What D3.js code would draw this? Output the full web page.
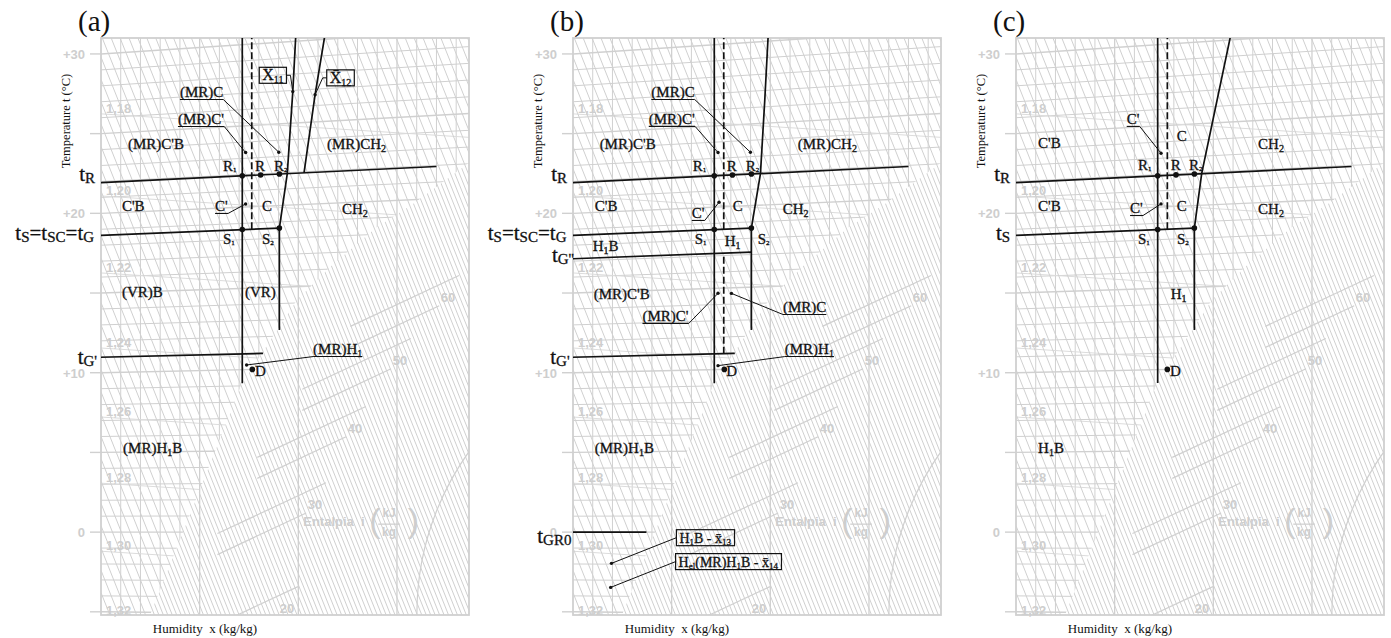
<!DOCTYPE html>
<html>
<head>
<meta charset="utf-8">
<title>h-x diagram process zones</title>
<script src="https://cdn.jsdelivr.net/npm/d3@7/dist/d3.min.js"></script>
<style>
  html, body { margin: 0; background: #fff; }
  svg { display: block; }
  text { white-space: pre; }
</style>
</head>
<body>
<svg id="chart" width="1391" height="638"></svg>
<script>
// ---------- chart values: humidity x in g/kg, temperature t in °C ----------
const panelTitles = ["(a)", "(b)", "(c)"];
const tempLabelValues = [0, 10, 20, 30];
const tempLabelText = ["0", "+10", "+20", "+30"];
const tempTickValues = [-5, 0, 5, 10, 15, 20, 25, 30];
const densityText = ["1,18", "1,20", "1,22", "1,24", "1,26", "1,28", "1,30", "1,32"];
const densityAt = [26.62, 21.47, 16.64, 11.93, 7.6, 3.45, -0.82, -4.9];
const enthalpyText = ["20", "30", "40", "50", "60"];
const enthalpyAt = [[9.43, -4.77], [10.85, 1.75], [12.87, 6.53], [15.15, 10.8], [17.59, 14.75]];
// saturation curve (x, t)
const saturation = [[2.48, -5.18], [4.16, 0], [7.15, 9.18], [9.93, 14.18], [11.61, 16.13],
                    [13.94, 18.4], [15.76, 19.7], [18.65, 22.06]];

// characteristic temperatures
const tR = 21.93, tS = 18.62, tG1 = 10.97, tG2 = 17.15, tGR0 = 0;

// ---- panel (a) ----
const aIsotherms = [[tR, 0, 17.0], [tS, 0, 9.04], [tG1, 0, 8.21]];
const aSolid = [[7.16, 9.17, 32], [9.04, 12.38, tS]];
const aDashed = [[7.64, tS, 32]];
const aCurves = [
  [[9.04, tS], [9.44, tR], [9.72, 26.93], [9.9, 31.0]],
  [[10.29, tR], [10.85, 26.66], [11.45, 31.0]]
];
const aPoints = [[7.16, tR], [8.09, tR], [9.04, tR], [7.16, tS], [9.04, tS], [7.67, 10.0]];
const aLabels = [
  ["(MR)C'B", 1.37, 24.04], ["R_{1}", 6.18, 22.66, "pt"], ["R", 7.81, 22.66], ["R_{2}", 8.77, 22.66, "pt"],
  ["(MR)CH_{2}", 11.45, 24.04], ["C'B", 1.06, 20.15], ["C", 8.16, 20.15], ["CH_{2}", 12.21, 19.96],
  ["S_{1}", 6.18, 18.08, "pt"], ["S_{2}", 8.16, 18.08, "pt"], ["(VR)B", 1.06, 14.75], ["(VR)", 7.3, 14.75],
  ["(MR)H_{1}B", 1.12, 4.96], ["D", 7.81, 9.79]
];
const aNotes = [
  ["(MR)C", 4.0, 27.3, "end", 9.01, 23.27],
  ["(MR)C'", 3.9, 25.6, "end", 7.33, 23.35],
  ["C'", 5.78, 20.15, "end", 7.33, 20.19],
  ["(MR)H_{1}", 10.75, 11.17, "start", 7.38, 10.28]
];
const aBoxes = [
  ["X\u0304_{11}", 8.02, 28.66, "end", 9.72, 26.93],
  ["X\u0304_{12}", 11.44, 28.5, "start", 10.85, 26.66]
];
const aSide = [["t_{R}", -0.3, 22.03], ["t_{S}=t_{SC}=t_{G}", -0.35, 18.33], ["t_{G'}", -0.2, 10.55]];

// ---- panel (b) ----
const bIsotherms = [[tR, 0, 17.0], [tS, 0, 9.04], [tG2, 0, 9.04], [tG1, 0, 8.2], [tGR0, 0, 3.72]];
const bSolid = [[7.16, 9.17, 32], [9.04, 12.38, tS]];
const bDashed = [[7.64, tS, 32], [7.64, tG1, tG2]];
const bCurves = [[[9.04, tS], [9.5, tR], [9.72, 26.43], [9.92, 31.0]]];
const bPoints = [[7.16, tR], [8.08, tR], [9.04, tR], [7.16, tS], [9.04, tS], [7.67, 10.0]];
const bLabels = [
  ["(MR)C'B", 1.35, 24.04], ["R_{1}", 6.07, 22.66, "pt"], ["R", 7.79, 22.66], ["R_{2}", 8.75, 22.66, "pt"],
  ["(MR)CH_{2}", 11.39, 24.04], ["C'B", 1.1, 20.15], ["C", 8.09, 20.15], ["CH_{2}", 10.63, 19.96],
  ["H_{1}B", 1.0, 17.64], ["S_{1}", 6.17, 18.08, "pt"], ["H_{1}", 7.69, 17.95], ["S_{2}", 9.36, 18.08, "pt"],
  ["(MR)C'B", 1.05, 14.63], ["D", 7.77, 9.79], ["(MR)H_{1}B", 1.1, 4.96]
];
const bNotes = [
  ["(MR)C", 3.97, 27.3, "end", 8.99, 23.27],
  ["(MR)C'", 3.84, 25.61, "end", 7.35, 23.35],
  ["C'", 6.02, 19.71, "end", 7.4, 20.29],
  ["(MR)C", 10.64, 13.81, "start", 8.03, 14.66],
  ["(MR)C'", 3.52, 13.25, "end", 7.35, 14.69],
  ["(MR)H_{1}", 10.73, 11.17, "start", 7.35, 10.24]
];
const bBoxes = [
  ["H_{1}B - x\u0304_{13}", 5.24, -0.35, "start", 1.95, -1.95],
  ["H_{el}(MR)H_{1}B - x\u0304_{14}", 5.2, -1.85, "start", 1.91, -3.45]
];
const bSide = [["t_{R}", -0.3, 22.03], ["t_{S}=t_{SC}=t_{G}", -0.33, 18.33], ["t_{G''}", 0.05, 16.95],
               ["t_{G'}", -0.17, 10.55], ["t_{GR0}", -0.08, -0.69]];

// ---- panel (c) ----
const cIsotherms = [[tR, 0, 17.0], [tS, 0, 9.04]];
const cSolid = [[7.18, 9.17, 32], [9.04, 12.38, tS]];
const cDashed = [[7.67, tS, 32]];
const cCurves = [[[9.04, tS], [9.41, tR], [10.85, 30.11], [11.0, 31.0]]];
const cPoints = [[7.18, tR], [8.11, tR], [9.04, tR], [7.18, tS], [9.04, tS], [7.67, 10.0]];
const cLabels = [
  ["C'B", 1.12, 24.1], ["C", 8.15, 24.55], ["CH_{2}", 12.27, 24.04],
  ["R_{1}", 6.18, 22.72, "pt"], ["R", 7.84, 22.72], ["R_{2}", 8.77, 22.72, "pt"],
  ["C'B", 1.12, 20.15], ["C", 8.15, 20.15], ["CH_{2}", 12.27, 19.96],
  ["S_{1}", 6.18, 18.08, "pt"], ["S_{2}", 8.16, 18.08, "pt"], ["H_{1}", 7.84, 14.63],
  ["D", 7.8, 9.79], ["H_{1}B", 1.12, 4.96]
];
const cNotes = [
  ["C'", 5.61, 25.61, "end", 7.35, 23.31],
  ["C'", 5.78, 20.02, "end", 7.35, 20.19]
];
const cBoxes = [];
const cSide = [["t_{R}", -0.3, 22.03], ["t_{S}", -0.3, 18.33]];

const panelSets = [
  { iso: aIsotherms, solid: aSolid, dashed: aDashed, curves: aCurves, points: aPoints, labels: aLabels, notes: aNotes, boxes: aBoxes, side: aSide },
  { iso: bIsotherms, solid: bSolid, dashed: bDashed, curves: bCurves, points: bPoints, labels: bLabels, notes: bNotes, boxes: bBoxes, side: bSide },
  { iso: cIsotherms, solid: cSolid, dashed: cDashed, curves: cCurves, points: cPoints, labels: cLabels, notes: cNotes, boxes: cBoxes, side: cSide }
];

// ---------- layout ----------
const PANEL_LEFT = [101, 573, 1016];
const FRAME_W = 368, FRAME_TOP = 38, FRAME_BOTTOM = 615;
const G_MAX = 18.65, T_MIN = -5.2, T_MAX = 31.0;
const TILT = 0.0027;          // isotherm rise per g/kg (oblique h-x chart)
const GREY = "#d0d0d0", GREY_TXT = "#cecece", INK = "#111";
const SERIF = "'Liberation Serif','Times New Roman',serif";
const SANS = "'Liberation Sans',Arial,sans-serif";

const svg = d3.select("#chart");

// text with _{...} subscripts
function rich(sel, str, size, subSize, subDy) {
  const parts = str.split(/(_\{[^}]*\})/).filter(s => s.length);
  let shifted = 0;
  parts.forEach(p => {
    const isSub = p.startsWith("_{");
    const txt = isSub ? p.slice(2, -1) : p;
    const target = isSub ? subDy : 0;
    const ts = sel.append("tspan").attr("font-size", isSub ? subSize : size).text(txt);
    if (target - shifted !== 0) ts.attr("dy", target - shifted);
    shifted = target;
  });
  return sel;
}

function inkText(g, px, py) {
  return g.append("text").attr("x", px).attr("y", py)
    .attr("font-family", SERIF).attr("fill", INK)
    .attr("stroke", INK).attr("stroke-width", 0.3);
}

function drawBackground(g, x, y, P, idx) {
  const X0 = x(0), X1 = x(G_MAX), Y0 = y(T_MAX), Y1 = y(T_MIN);
  const defs = g.append("defs");
  defs.append("clipPath").attr("id", "frame" + idx).append("rect")
    .attr("x", X0).attr("y", Y0).attr("width", X1 - X0).attr("height", Y1 - Y0);
  const sat = saturation.map(d => P(d[0], d[1]));
  const last = sat[sat.length - 1];
  const fogPoly = [...sat, [X1 + 5, last[1]], [X1 + 5, Y1 + 5], [sat[0][0], Y1 + 5]];
  const gridPoly = [[X0 - 5, Y0 - 5], [X1 + 5, Y0 - 5], [X1 + 5, last[1]], ...sat.slice().reverse(),
                    [sat[0][0], Y1 + 5], [X0 - 5, Y1 + 5]];
  defs.append("clipPath").attr("id", "fog" + idx).append("path").attr("d", "M" + fogPoly.join("L") + "Z");
  defs.append("clipPath").attr("id", "grid" + idx).append("path").attr("d", "M" + gridPoly.join("L") + "Z");

  const inFrame = g.append("g").attr("clip-path", `url(#frame${idx})`)
    .attr("stroke", GREY).attr("stroke-width", 1).attr("fill", "none");
  const grid = inFrame.append("g").attr("clip-path", `url(#grid${idx})`);
  const fog = inFrame.append("g").attr("clip-path", `url(#fog${idx})`);

  // humidity lines above saturation
  grid.selectAll("line.vx").data(d3.range(1, 19).filter(v => v % 5 !== 0)).join("line")
    .attr("x1", d => x(d)).attr("x2", d => x(d)).attr("y1", Y0).attr("y2", Y1);
  // isotherms (oblique)
  grid.selectAll("line.iso").data(d3.range(-5, 33)).join("line")
    .attr("x1", d => P(0, d)[0]).attr("y1", d => P(0, d)[1])
    .attr("x2", d => P(G_MAX, d)[0]).attr("y2", d => P(G_MAX, d)[1])
    .attr("stroke-width", d => d % 5 === 0 ? 1.4 : 1);
  // density lines
  grid.selectAll("line.rho").data(densityAt).join("line")
    .attr("x1", x(0)).attr("y1", d => y(d - 0.38))
    .attr("x2", x(G_MAX)).attr("y2", d => y(d - 0.38 - 0.079 * G_MAX))
    .attr("stroke", "#dcdcdc");

  // major humidity lines
  inFrame.selectAll("line.vmaj").data([5, 10, 15]).join("line")
    .attr("x1", d => x(d)).attr("x2", d => x(d)).attr("y1", Y0).attr("y2", Y1).attr("stroke-width", 1.3);
  // enthalpy lines
  const hatch = d3.range(-8, 95, 1.4);
  inFrame.selectAll("line.h").data(hatch).join("line")
    .attr("x1", x(0)).attr("y1", d => y(d))
    .attr("x2", x(G_MAX)).attr("y2", d => y(d - 3.1 * G_MAX));
  // fog isotherms, interleaved
  fog.selectAll("line.fh").data(hatch.map(h => h + 0.7)).join("line")
    .attr("x1", x(0)).attr("y1", d => y(d))
    .attr("x2", x(G_MAX)).attr("y2", d => y(d - 3.1 * G_MAX));
  // enthalpy scale lines in fog zone
  enthalpyAt.forEach(([ge, Te]) => {
    [[-0.45, -0.55, 4.5], [0.55, 1.35, 5.5]].forEach(([dg, dT, len]) => {
      fog.append("line")
        .attr("x1", x(ge + dg)).attr("y1", y(Te + dT))
        .attr("x2", x(ge + dg - len)).attr("y2", y(Te + dT - 0.58 * len))
        .attr("stroke-width", 1.2);
    });
  });
  // protractor arc
  fog.append("circle").attr("cx", x(30.05)).attr("cy", y(-5.1))
    .attr("r", x(14.04) - x(0)).attr("stroke-width", 1.2);

  // frame
  g.append("rect").attr("x", X0).attr("y", Y0).attr("width", X1 - X0).attr("height", Y1 - Y0)
    .attr("fill", "none").attr("stroke", GREY).attr("stroke-width", 1.8);

  // temperature ticks and labels
  g.selectAll("line.tick").data(tempTickValues).join("line")
    .attr("x1", X0 - 11).attr("x2", X0).attr("y1", d => y(d)).attr("y2", d => y(d))
    .attr("stroke", GREY).attr("stroke-width", 1.4);
  g.selectAll("text.tl").data(tempLabelValues).join("text")
    .attr("x", X0 - 16).attr("y", d => y(d) + 5).attr("text-anchor", "end")
    .attr("font-family", SANS).attr("font-weight", "bold").attr("font-size", 13)
    .attr("fill", GREY_TXT).text((d, i) => tempLabelText[i]);
  // density labels
  g.selectAll("text.rl").data(densityAt).join("text")
    .attr("x", X0 + 5).attr("y", d => y(d) + 5)
    .attr("font-family", SANS).attr("font-weight", "bold").attr("font-size", 13)
    .attr("fill", GREY_TXT).text((d, i) => densityText[i]);
  // enthalpy labels
  g.selectAll("text.el").data(enthalpyAt).join("text")
    .attr("x", d => x(d[0])).attr("y", d => y(d[1]) + 5).attr("text-anchor", "middle")
    .attr("font-family", SANS).attr("font-weight", "bold").attr("font-size", 13)
    .attr("fill", GREY_TXT).text((d, i) => enthalpyText[i]);
  // enthalpy axis caption
  const cap = g.append("g").attr("fill", GREY_TXT).attr("font-family", SANS).attr("font-weight", "bold");
  cap.append("text").attr("x", x(10.25)).attr("y", y(0.38)).attr("font-size", 13).text("Entalpia  i");
  cap.append("text").attr("x", x(13.6)).attr("y", y(0.0)).attr("font-size", 34).attr("font-weight", "normal").text("(");
  cap.append("text").attr("x", x(15.55)).attr("y", y(0.0)).attr("font-size", 34).attr("font-weight", "normal").text(")");
  cap.append("text").attr("x", x(14.6)).attr("y", y(0.95)).attr("font-size", 12).attr("text-anchor", "middle").text("kJ");
  cap.append("text").attr("x", x(14.6)).attr("y", y(-0.25)).attr("font-size", 12).attr("text-anchor", "middle").text("kg");
  cap.append("line").attr("x1", x(14.05)).attr("x2", x(15.15)).attr("y1", y(0.5)).attr("y2", y(0.5))
    .attr("stroke", GREY_TXT).attr("stroke-width", 1.2);
}

function drawAnnotations(g, x, y, P, idx, set) {
  const lines = g.append("g").attr("clip-path", `url(#frame${idx})`)
    .attr("stroke", INK).attr("fill", "none").attr("stroke-width", 1.7);
  const seg = (a, b) => "M" + a + "L" + b;
  lines.selectAll("path.iso").data(set.iso).join("path")
    .attr("d", d => seg(P(d[1], d[0]), P(d[2], d[0])));
  lines.selectAll("path.sol").data(set.solid).join("path")
    .attr("d", d => seg(P(d[0], d[1]), P(d[0], d[2])));
  lines.selectAll("path.dash").data(set.dashed).join("path")
    .attr("d", d => seg(P(d[0], d[1]), P(d[0], d[2])))
    .attr("stroke-dasharray", "7,3");
  const curve = d3.line().x(d => P(d[0], d[1])[0]).y(d => P(d[0], d[1])[1]);
  lines.selectAll("path.cur").data(set.curves).join("path").attr("d", curve);

  // state points
  g.selectAll("circle.pt").data(set.points).join("circle")
    .attr("cx", d => P(d[0], d[1])[0]).attr("cy", d => P(d[0], d[1])[1]).attr("r", 2.8).attr("fill", INK);

  // zone and point labels
  set.labels.forEach(([txt, gx, T, kind]) => {
    const t = inkText(g, x(gx), y(T));
    if (kind === "pt") rich(t, txt, 15, 7, 1);
    else rich(t, txt, 15, 10, 3);
  });

  // underlined notes with leaders
  set.notes.forEach(([txt, gx, T, side, tg, tt]) => {
    const t = inkText(g, x(gx), y(T));
    rich(t, txt, 15, 10, 3);
    const bb = t.node().getBBox();
    const uy = y(T) + 2.5;
    g.append("line").attr("x1", bb.x).attr("x2", bb.x + bb.width).attr("y1", uy).attr("y2", uy)
      .attr("stroke", INK).attr("stroke-width", 1.1);
    const sx = side === "end" ? bb.x + bb.width : bb.x;
    const tp = P(tg, tt);
    g.append("line").attr("x1", sx).attr("y1", uy).attr("x2", tp[0]).attr("y2", tp[1])
      .attr("stroke", INK).attr("stroke-width", 1);
    g.append("circle").attr("cx", tp[0]).attr("cy", tp[1]).attr("r", 1.7).attr("fill", INK);
  });

  // boxed tags
  set.boxes.forEach(([txt, gx, T, side, tg, tt]) => {
    const big = txt.startsWith("X");
    const t = inkText(g, x(gx) + 3, y(T) + 5);
    if (big) rich(t, txt, 16, 10, 3); else rich(t, txt, 14, 9, 2);
    const bb = t.node().getBBox();
    const bx0 = x(gx), bx1 = bb.x + bb.width + 3;
    const by0 = y(T) - 8, by1 = y(T) + 8;
    g.append("rect").attr("x", bx0).attr("y", by0).attr("width", bx1 - bx0).attr("height", by1 - by0)
      .attr("fill", "none").attr("stroke", INK).attr("stroke-width", 1.2);
    const tp = P(tg, tt);
    const ex = side === "end" ? bx1 : bx0;
    const elbow = big ? (side === "end" ? 4 : -4) : 0;
    g.append("path").attr("d", `M${ex},${y(T)}L${ex + elbow},${y(T)}L${tp[0]},${tp[1]}`)
      .attr("fill", "none").attr("stroke", INK).attr("stroke-width", 1);
    g.append("circle").attr("cx", tp[0]).attr("cy", tp[1]).attr("r", 1.7).attr("fill", INK);
  });

  // temperature markers left of the chart
  set.side.forEach(([txt, gx, T]) => {
    const t = inkText(g, x(gx), y(T)).attr("text-anchor", "end");
    rich(t, txt, 21, 15, 2);
  });
}

panelTitles.forEach((title, idx) => {
  const left = PANEL_LEFT[idx];
  const x = d3.scaleLinear().domain([0, G_MAX]).range([left, left + FRAME_W]);
  const y = d3.scaleLinear().domain([T_MIN, T_MAX]).range([FRAME_BOTTOM, FRAME_TOP]);
  const P = (gx, t) => [x(gx), y(t * (1 + TILT * gx))];
  const g = svg.append("g");
  drawBackground(g, x, y, P, idx);
  drawAnnotations(g, x, y, P, idx, panelSets[idx]);

  g.append("text").attr("x", left - 23).attr("y", 31).attr("font-family", SERIF)
    .attr("font-size", 29).attr("fill", INK).text(title);
  g.append("text").attr("transform", `translate(${left - 31},121) rotate(-90)`)
    .attr("text-anchor", "middle").attr("font-family", SERIF).attr("font-size", 12.5)
    .attr("fill", INK).text("Temperature t (°C)");
  g.append("text").attr("x", left + 104).attr("y", 633).attr("text-anchor", "middle")
    .attr("font-family", SERIF).attr("font-size", 13).attr("fill", INK).text("Humidity  x (kg/kg)");
});
</script>
</body>
</html>
